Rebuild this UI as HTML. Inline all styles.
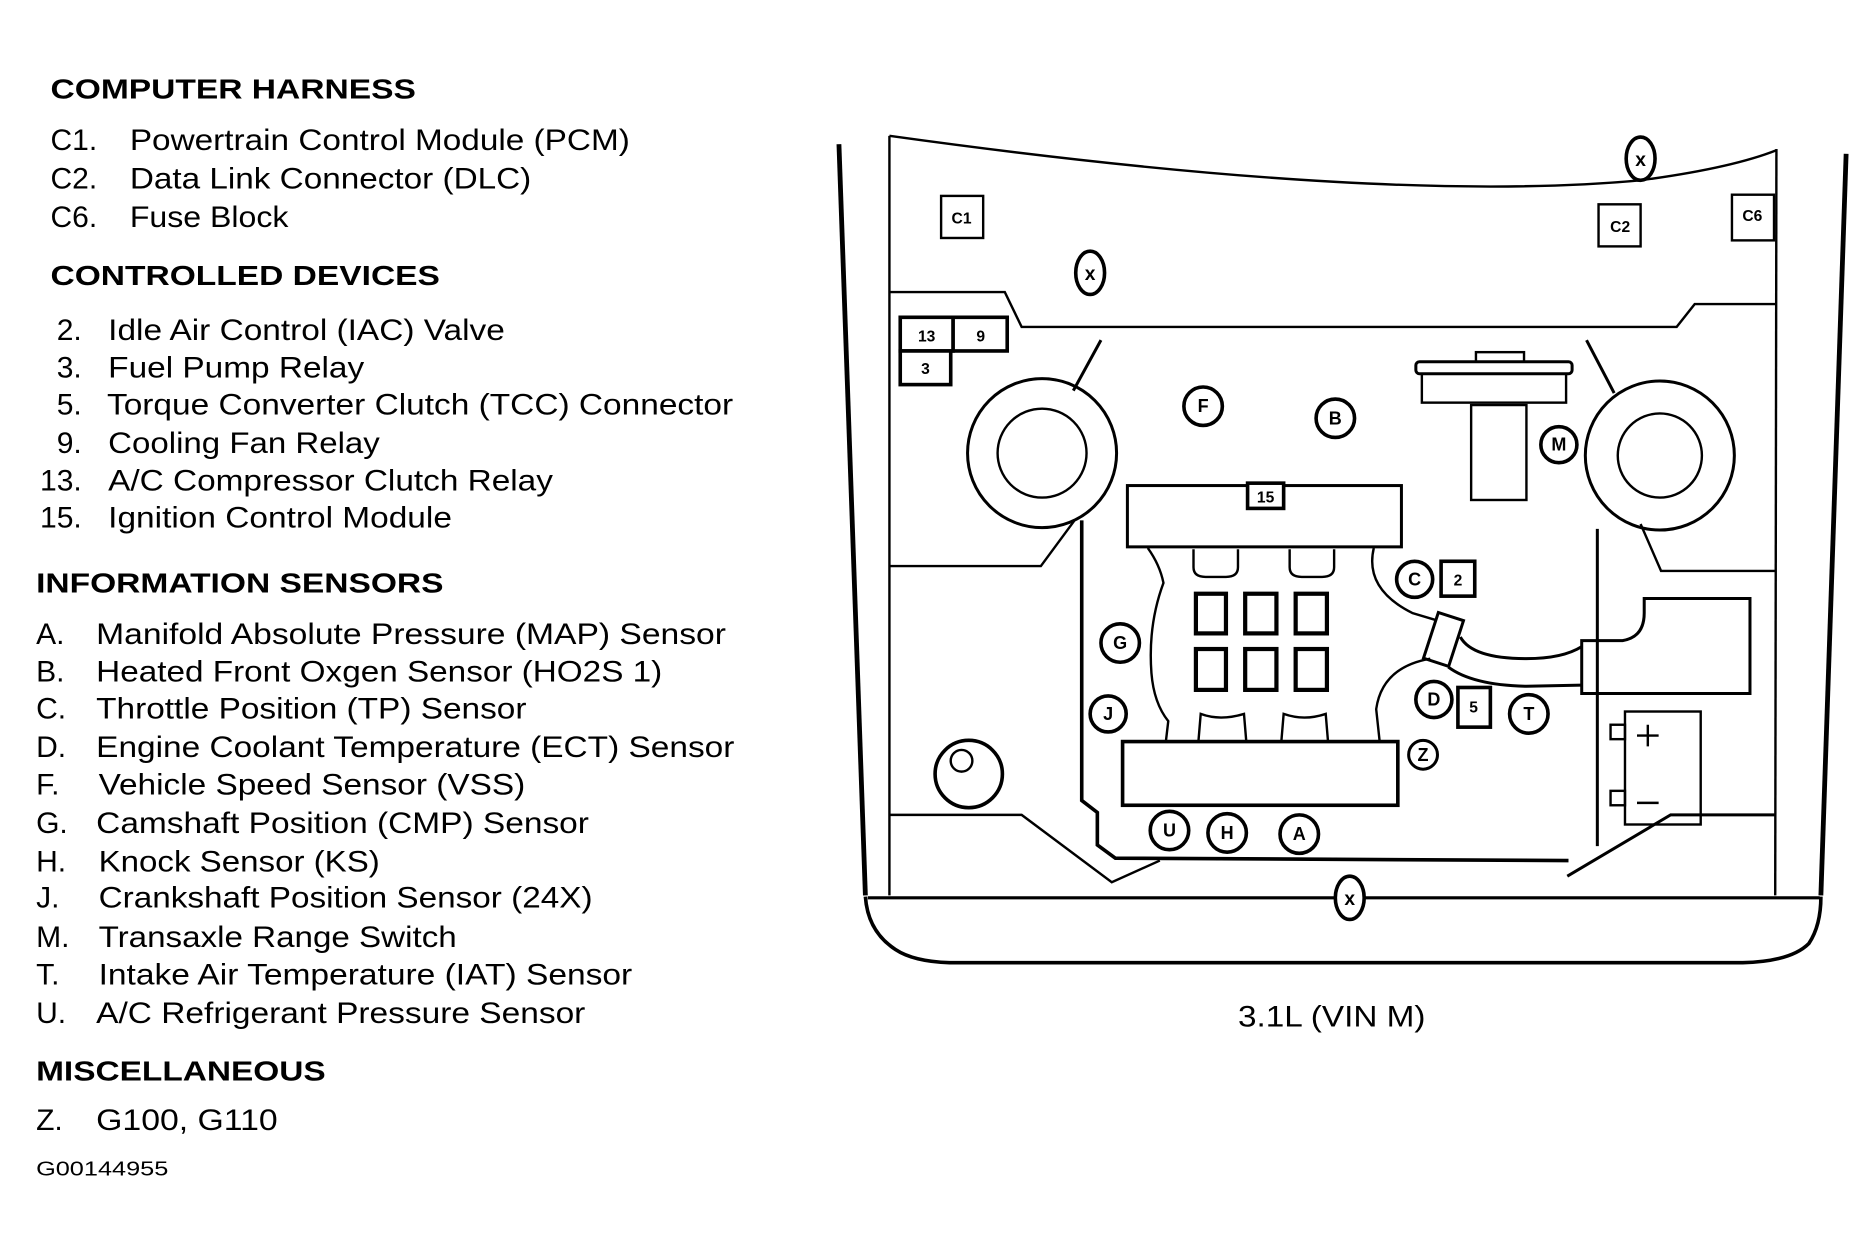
<!DOCTYPE html>
<html><head><meta charset="utf-8"><style>
html,body{margin:0;padding:0;background:#fff;}
svg{display:block;}
text{font-family:"Liberation Sans",Arial,sans-serif;fill:#000;}
.h{font-weight:bold;font-size:23px;}
.t{font-size:25px;}
.d{font-size:13px;font-weight:bold;text-anchor:middle;}
</style></head><body>
<svg width="1875" height="1246" viewBox="0 0 1560 1036.7" xmlns="http://www.w3.org/2000/svg">
<rect width="1560" height="1037" fill="#fff"/>
<!-- LEFT TEXT -->
<text class="h" x="42" y="82" textLength="304" lengthAdjust="spacingAndGlyphs">COMPUTER HARNESS</text>
<text class="t" x="42" y="125">C1.</text><text class="t" x="108" y="125" textLength="416" lengthAdjust="spacingAndGlyphs">Powertrain Control Module (PCM)</text>
<text class="t" x="42" y="157">C2.</text><text class="t" x="108" y="157" textLength="334" lengthAdjust="spacingAndGlyphs">Data Link Connector (DLC)</text>
<text class="t" x="42" y="189">C6.</text><text class="t" x="108" y="189" textLength="132" lengthAdjust="spacingAndGlyphs">Fuse Block</text>
<text class="h" x="42" y="237" textLength="324" lengthAdjust="spacingAndGlyphs">CONTROLLED DEVICES</text>
<g class="t" text-anchor="end">
<text x="68" y="283">2.</text><text x="68" y="314">3.</text><text x="68" y="345">5.</text>
<text x="68" y="377">9.</text><text x="68" y="408">13.</text><text x="68" y="439">15.</text>
</g>
<text class="t" x="90" y="283" textLength="330" lengthAdjust="spacingAndGlyphs">Idle Air Control (IAC) Valve</text>
<text class="t" x="90" y="314" textLength="213" lengthAdjust="spacingAndGlyphs">Fuel Pump Relay</text>
<text class="t" x="89" y="345" textLength="521" lengthAdjust="spacingAndGlyphs">Torque Converter Clutch (TCC) Connector</text>
<text class="t" x="90" y="377" textLength="226" lengthAdjust="spacingAndGlyphs">Cooling Fan Relay</text>
<text class="t" x="90" y="408" textLength="370" lengthAdjust="spacingAndGlyphs">A/C Compressor Clutch Relay</text>
<text class="t" x="90" y="439" textLength="286" lengthAdjust="spacingAndGlyphs">Ignition Control Module</text>
<text class="h" x="30" y="493" textLength="339" lengthAdjust="spacingAndGlyphs">INFORMATION SENSORS</text>
<g class="t">
<text x="30" y="536">A.</text><text x="80" y="536" textLength="524" lengthAdjust="spacingAndGlyphs">Manifold Absolute Pressure (MAP) Sensor</text>
<text x="30" y="567">B.</text><text x="80" y="567" textLength="471" lengthAdjust="spacingAndGlyphs">Heated Front Oxgen Sensor (HO2S 1)</text>
<text x="30" y="598">C.</text><text x="80" y="598" textLength="358" lengthAdjust="spacingAndGlyphs">Throttle Position (TP) Sensor</text>
<text x="30" y="630">D.</text><text x="80" y="630" textLength="531" lengthAdjust="spacingAndGlyphs">Engine Coolant Temperature (ECT) Sensor</text>
<text x="30" y="661">F.</text><text x="82" y="661" textLength="355" lengthAdjust="spacingAndGlyphs">Vehicle Speed Sensor (VSS)</text>
<text x="30" y="693">G.</text><text x="80" y="693" textLength="410" lengthAdjust="spacingAndGlyphs">Camshaft Position (CMP) Sensor</text>
<text x="30" y="725">H.</text><text x="82" y="725" textLength="234" lengthAdjust="spacingAndGlyphs">Knock Sensor (KS)</text>
<text x="30" y="755">J.</text><text x="82" y="755" textLength="411" lengthAdjust="spacingAndGlyphs">Crankshaft Position Sensor (24X)</text>
<text x="30" y="788">M.</text><text x="82" y="788" textLength="298" lengthAdjust="spacingAndGlyphs">Transaxle Range Switch</text>
<text x="30" y="819">T.</text><text x="82" y="819" textLength="444" lengthAdjust="spacingAndGlyphs">Intake Air Temperature (IAT) Sensor</text>
<text x="30" y="851">U.</text><text x="80" y="851" textLength="407" lengthAdjust="spacingAndGlyphs">A/C Refrigerant Pressure Sensor</text>
</g>
<text class="h" x="30" y="899" textLength="241" lengthAdjust="spacingAndGlyphs">MISCELLANEOUS</text>
<text class="t" x="30" y="940">Z.</text><text class="t" x="80" y="940" textLength="151" lengthAdjust="spacingAndGlyphs">G100, G110</text>
<text x="30" y="978" style="font-size:17px" textLength="110" lengthAdjust="spacingAndGlyphs">G00144955</text>

<!-- DIAGRAM -->
<g fill="none" stroke="#000" stroke-width="2">
<path d="M698,120 L720,745" stroke-width="4"/>
<path d="M1536,128 L1515,745" stroke-width="4"/>
<path d="M720,746 Q722,775 745,790 Q760,800 790,801 L1450,801 Q1490,800 1505,785 Q1515,770 1515,746"  stroke-width="3"/>
<path d="M722,747 L1514,747" stroke-width="2.5"/>
<path d="M740,113 Q1150,170 1365,150 Q1440,140 1478,125"/>
<path d="M740,113 L740,745"/>
<path d="M1478,124 L1477,745"/>
<path d="M740,243 L836,243 L850,272 L1395,272 L1410,253 L1478,253"/>
<path d="M916,283 L893,325" stroke-width="2.5"/>
<path d="M1320,283 L1343,327" stroke-width="2.5"/>
<path d="M740,471 L866,471 L894,433"/>
<path d="M1478,475 L1382,475 L1365,436"/>
<path d="M900,433 L900,666 L913,676 L913,703 L928,714 L1305,716" stroke-width="3"/>
<path d="M1329,440 L1329,704" stroke-width="2.5"/>
<path d="M740,678 L850,678 L925,734 L965,716"/>
<path d="M1478,678 L1390,678 L1304,729" stroke-width="2.5"/>
<circle cx="867" cy="377" r="62" stroke-width="2.5"/><circle cx="867" cy="377" r="37"/>
<circle cx="1381" cy="379" r="62" stroke-width="2.5"/><circle cx="1381" cy="379" r="35"/>
<rect x="1228" y="293" width="40" height="8"/>
<rect x="1178" y="301" width="130" height="10" rx="3" stroke-width="2.5"/>
<rect x="1183" y="311" width="120" height="24"/>
<rect x="1224" y="337" width="46" height="79"/>
<rect x="938" y="404" width="228" height="51" stroke-width="2.5"/>
<path d="M955,456 Q965,470 968,485 Q955,520 958,560 Q960,585 972,600 L970,617"/>
<path d="M1143,456 Q1135,490 1175,510 L1195,516"/>
<path d="M1190,548 Q1150,555 1145,590 L1148,618"/>
<path d="M993,457 L993,472 Q993,480 1003,480 L1020,480 Q1030,480 1030,472 L1030,457"/>
<path d="M1073,457 L1073,472 Q1073,480 1083,480 L1100,480 Q1110,480 1110,472 L1110,457"/>
<path d="M997,618 L999,594 Q1015,600 1035,594 L1037,618"/>
<path d="M1066,618 L1068,594 Q1085,600 1103,594 L1105,618"/>
<rect x="934" y="617" width="229" height="53" stroke-width="3"/>
<path d="M1215,530 Q1225,548 1270,548 Q1300,548 1316,538" stroke-width="2.5"/>
<path d="M1205,555 Q1225,570 1270,571 L1316,570" stroke-width="2.5"/>
<rect x="1190" y="512" width="22" height="40" transform="rotate(18 1201 532)" stroke-width="2.5"/>
<path d="M1368,498 L1456,498 L1456,577 L1316,577 L1316,533 L1350,533 Q1368,530 1368,510 Z" stroke-width="2.5"/>
<rect x="1352" y="592" width="63" height="94" stroke-width="2"/>
<rect x="1340" y="603" width="12" height="12"/>
<rect x="1340" y="658" width="12" height="12"/>
<path d="M1362,612 L1380,612 M1371,603 L1371,621 M1362,668 L1380,668"/>
<circle cx="806" cy="644" r="28" stroke-width="3"/>
<circle cx="800" cy="633" r="9"/>
</g>
<g fill="none" stroke="#000" stroke-width="3.5">
<rect x="995" y="494" width="25" height="33"/><rect x="1036" y="494" width="26" height="33"/><rect x="1078" y="494" width="26" height="33"/>
<rect x="995" y="540" width="25" height="34"/><rect x="1036" y="540" width="26" height="34"/><rect x="1078" y="540" width="26" height="34"/>
</g>
<g fill="#fff" stroke="#000" stroke-width="2">
<rect x="783" y="163" width="35" height="35"/>
<rect x="1330" y="170" width="35" height="35"/>
<rect x="1441" y="162" width="35" height="38"/>
</g>
<g fill="#fff" stroke="#000" stroke-width="3">
<rect x="749" y="264" width="44" height="28"/>
<rect x="793" y="264" width="45" height="28"/>
<rect x="749" y="292" width="42" height="28"/>
<rect x="1038" y="402" width="30" height="21"/>
<rect x="1199" y="467" width="28" height="29"/>
<rect x="1213" y="572" width="27" height="33"/>
</g>
<text class="d" x="800" y="186">C1</text>
<text class="d" x="1348" y="193">C2</text>
<text class="d" x="1458" y="184">C6</text>
<text class="d" x="771" y="284">13</text>
<text class="d" x="816" y="284">9</text>
<text class="d" x="770" y="311">3</text>
<text class="d" x="1053" y="418">15</text>
<text class="d" x="1213" y="487">2</text>
<text class="d" x="1226" y="593">5</text>
<g fill="#fff" stroke="#000" stroke-width="3">
<ellipse cx="907" cy="227" rx="12" ry="18"/>
<ellipse cx="1365" cy="132" rx="12" ry="18"/>
<ellipse cx="1123" cy="747" rx="12" ry="18"/>
</g>
<g class="d" style="font-size:16px">
<text x="907" y="233">x</text><text x="1365" y="138">x</text><text x="1123" y="753">x</text>
</g>
<g fill="#fff" stroke="#000" stroke-width="3">
<circle cx="1001" cy="338" r="16"/><circle cx="1111" cy="348" r="16"/>
<circle cx="1297" cy="370" r="15"/><circle cx="1177" cy="482" r="15"/>
<circle cx="932" cy="535" r="16"/><circle cx="922" cy="594" r="15"/>
<circle cx="1193" cy="582" r="15"/><circle cx="1272" cy="594" r="16"/>
<circle cx="1184" cy="628" r="12" stroke-width="2.5"/>
<circle cx="973" cy="691" r="16"/><circle cx="1021" cy="693" r="16"/><circle cx="1081" cy="694" r="16"/>
</g>
<g class="d" style="font-size:15px">
<text x="1001" y="343">F</text><text x="1111" y="353">B</text><text x="1297" y="375">M</text>
<text x="1177" y="487">C</text><text x="932" y="540">G</text><text x="922" y="599">J</text>
<text x="1193" y="587">D</text><text x="1272" y="599">T</text><text x="1184" y="633">Z</text>
<text x="973" y="696">U</text><text x="1021" y="698">H</text><text x="1081" y="699">A</text>
</g>
<text class="t" x="1030" y="854" textLength="156" lengthAdjust="spacingAndGlyphs">3.1L (VIN M)</text>
</svg>
</body></html>
